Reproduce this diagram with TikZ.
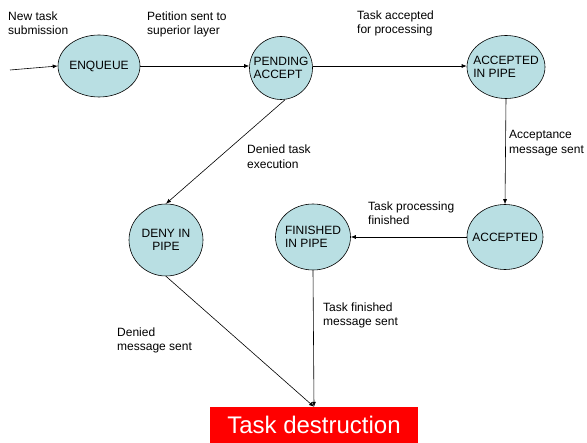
\documentclass[tikz,border=0pt]{standalone}
\usepackage{fontspec}
\setmainfont{Liberation Sans}
\usetikzlibrary{shapes.geometric,arrows.meta}
\definecolor{statefill}{RGB}{185,223,227}
\definecolor{destred}{RGB}{255,0,0}
\tikzset{
  state/.style={ellipse,draw=black,line width=0.6pt,fill=statefill,inner sep=0pt},
  stext/.style={inner sep=0pt,font=\fontsize{12}{13.5}\selectfont,align=left},
  lbl/.style={anchor=north west,inner sep=0pt,align=left,font=\fontsize{12}{14.5}\selectfont},
  conn/.style={draw=black,line width=0.6pt,-{Latex[length=5pt,width=4pt]}}
}
\begin{document}
\begin{tikzpicture}[x=1pt,y=-1pt]
\useasboundingbox (0,0) rectangle (587,443);
\node[state,minimum width=82pt,minimum height=62pt,label={[stext]center:ENQUEUE}] (enq) at (99,66) {};
\node[state,minimum width=63pt,minimum height=63pt,label={[stext]center:{PENDING\\ACCEPT}}] (pend) at (281,68) {};
\node[state,minimum width=78pt,minimum height=63pt,label={[stext]center:{ACCEPTED\\IN PIPE}}] (aip) at (506,67) {};
\node[state,minimum width=76pt,minimum height=65pt,label={[stext]center:ACCEPTED}] (acc) at (505,237) {};
\node[state,minimum width=75pt,minimum height=66pt,label={[stext]center:{FINISHED\\IN PIPE}}] (fin) at (313,237) {};
\node[state,minimum width=74pt,minimum height=72pt,label={[stext,align=center]center:{DENY IN\\PIPE}}] (deny) at (166,240) {};
\node[fill=destred,text=white,minimum width=208pt,minimum height=36pt,inner sep=0pt,
  font=\fontsize{24}{26}\selectfont] (dest) at (314,425) {Task destruction};
\coordinate (start) at (10,70);
\node[lbl] (l1) at (8,11.5) {New task\\submission};
\node[lbl] (l2) at (147,11.5) {Petition sent to\\superior layer};
\node[lbl] (l3) at (357,10.5) {Task accepted\\for processing};
\node[lbl] (l4) at (247,145) {Denied task\\execution};
\node[lbl] (l5) at (509,130.5) {Acceptance\\message sent};
\node[lbl] (l6) at (368,201.5) {Task processing\\finished};
\node[lbl] (l7) at (323,302.5) {Task finished\\message sent};
\node[lbl] (l8) at (117,327.5) {Denied\\message sent};
\draw[conn] (start) -- (enq.west);
\draw[conn] (enq.east) -- (enq.east -| pend.west);
\draw[conn] (pend.east |- enq.east) -- (pend.east |- enq.east -| aip.west);
\draw[conn] ([xshift=4pt]pend.south) -- (deny.north);
\draw[conn] (aip.south) -- (acc.north);
\draw[conn] (acc.west) -- (fin.east);
\draw[conn] (fin.south) -- (dest.north);
\draw[conn] (deny.south) -- (dest.north);
\end{tikzpicture}
\end{document}
